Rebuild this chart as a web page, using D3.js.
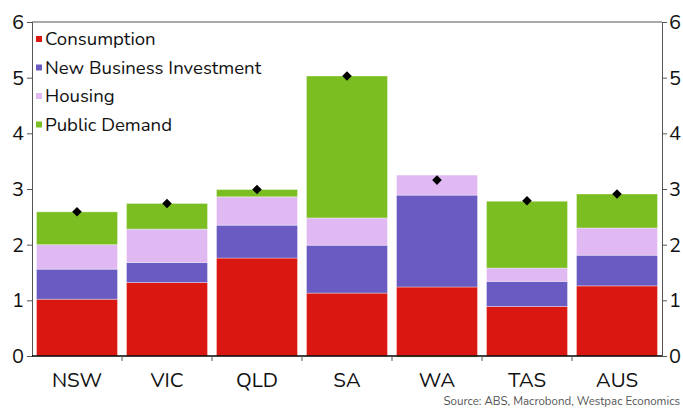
<!DOCTYPE html>
<html>
<head>
<meta charset="utf-8">
<script src="https://d3js.org/d3.v7.min.js"></script>
<style>
body { margin: 0; background: #fff; font-family: "Nunito", "Open Sans", sans-serif; }
</style>
</head>
<body>
<svg></svg>
<script>
var states = ["NSW", "VIC", "QLD", "SA", "WA", "TAS", "AUS"];
var consumption = [1.02, 1.32, 1.76, 1.13, 1.24, 0.89, 1.26];
var businessInvestment = [0.54, 0.36, 0.59, 0.86, 1.65, 0.45, 0.55];
var housing = [0.44, 0.60, 0.51, 0.49, 0.36, 0.24, 0.49];
var publicDemand = [0.59, 0.46, 0.13, 2.55, -0.02, 1.20, 0.61];
var totals = [2.59, 2.74, 2.99, 5.03, 3.16, 2.79, 2.91];
var yTicks = [0, 1, 2, 3, 4, 5, 6];

var seriesNames = ["Consumption", "New Business Investment", "Housing", "Public Demand"];
var seriesValues = [consumption, businessInvestment, housing, publicDemand];
var colors = ["#da1710", "#695bc1", "#e0b9f2", "#7bbe21"];

var width = 683, height = 408;
var margin = {top: 22, right: 21, bottom: 52, left: 32};

var svg = d3.select("svg").attr("width", width).attr("height", height);

var x = d3.scaleBand().domain(states)
    .range([margin.left, width - margin.right]).paddingInner(0.1).paddingOuter(0.05);
var y = d3.scaleLinear().domain([0, 6]).range([height - margin.bottom, margin.top]);

// stack with positive / negative handling
var rows = states.map(function (s, i) {
    var r = {state: s};
    seriesNames.forEach(function (n, j) { r[n] = seriesValues[j][i]; });
    return r;
});
var stack = d3.stack().keys(seriesNames).offset(d3.stackOffsetDiverging);
var layers = stack(rows);

svg.append("g").selectAll("g")
    .data(layers)
    .enter().append("g")
    .attr("fill", function (d, i) { return colors[i]; })
    .selectAll("rect")
    .data(function (d) { return d; })
    .enter().append("rect")
    .attr("x", function (d) { return x(d.data.state); })
    .attr("width", x.bandwidth())
    .attr("y", function (d) { return y(Math.max(d[0], d[1])); })
    .attr("height", function (d) { return Math.abs(y(d[0]) - y(d[1])); })
    .attr("stroke", "#fff")
    .attr("stroke-opacity", 0.35)
    .attr("stroke-width", 1);

// totals as diamonds (rotated squares)
svg.append("g").selectAll("path")
    .data(totals)
    .enter().append("path")
    .attr("d", d3.symbol().type(d3.symbolSquare).size(46))
    .attr("transform", function (d, i) {
        return "translate(" + (x(states[i]) + x.bandwidth() / 2) + "," + y(d) + ")rotate(45)";
    })
    .attr("fill", "#000");

// frame top
svg.append("line")
    .attr("x1", margin.left).attr("x2", width - margin.right)
    .attr("y1", y(6)).attr("y2", y(6))
    .attr("stroke", "#555").attr("stroke-width", 1);

// y axes both sides
var left = svg.append("g")
    .attr("transform", "translate(" + margin.left + ",0)")
    .call(d3.axisLeft(y).tickValues(yTicks).tickSize(5).tickPadding(3).tickFormat(d3.format("d")));
var right = svg.append("g")
    .attr("transform", "translate(" + (width - margin.right) + ",0)")
    .call(d3.axisRight(y).tickValues(yTicks).tickSize(5).tickPadding(2).tickFormat(d3.format("d")));
[left, right].forEach(function (a) {
    a.select(".domain").attr("stroke", "#555");
    a.selectAll(".tick line").attr("stroke", "#555");
    a.selectAll("text").attr("font-size", 20).attr("fill", "#111")
        .attr("font-family", "Nunito, 'Open Sans', sans-serif");
});

// x axis with ticks at band edges
var base = y(0);
svg.append("line")
    .attr("x1", margin.left).attr("x2", width - margin.right)
    .attr("y1", base).attr("y2", base)
    .attr("stroke", "#000").attr("stroke-width", 1.5);
var edges = states.map(function (s) { return x(s) - x.step() * x.paddingInner() / 2; });
edges.push(width - margin.right);
svg.append("g").selectAll("line")
    .data(edges.slice(1, -1))
    .enter().append("line")
    .attr("x1", function (d) { return d; }).attr("x2", function (d) { return d; })
    .attr("y1", base).attr("y2", base + 5)
    .attr("stroke", "#555");
svg.append("g").selectAll("text")
    .data(states)
    .enter().append("text")
    .attr("x", function (d) { return x(d) + x.bandwidth() / 2; })
    .attr("y", base + 31)
    .attr("text-anchor", "middle")
    .attr("font-size", 20.5)
    .attr("fill", "#111")
    .text(function (d) { return d; });

// legend
var legend = svg.append("g").selectAll("g")
    .data(seriesNames)
    .enter().append("g")
    .attr("transform", function (d, i) { return "translate(36," + (39 + i * 28.5) + ")"; });
legend.append("rect")
    .attr("x", 0).attr("y", -3).attr("width", 6).attr("height", 6)
    .attr("fill", function (d, i) { return colors[i]; });
legend.append("text")
    .attr("x", 9).attr("y", 6)
    .attr("font-size", 18.6)
    .attr("fill", "#111")
    .text(function (d) { return d; });

// source
svg.append("text")
    .attr("x", 680).attr("y", 405)
    .attr("text-anchor", "end")
    .attr("font-size", 11.5)
    .attr("fill", "#555")
    .text("Source: ABS, Macrobond, Westpac Economics");
</script>
</body>
</html>
